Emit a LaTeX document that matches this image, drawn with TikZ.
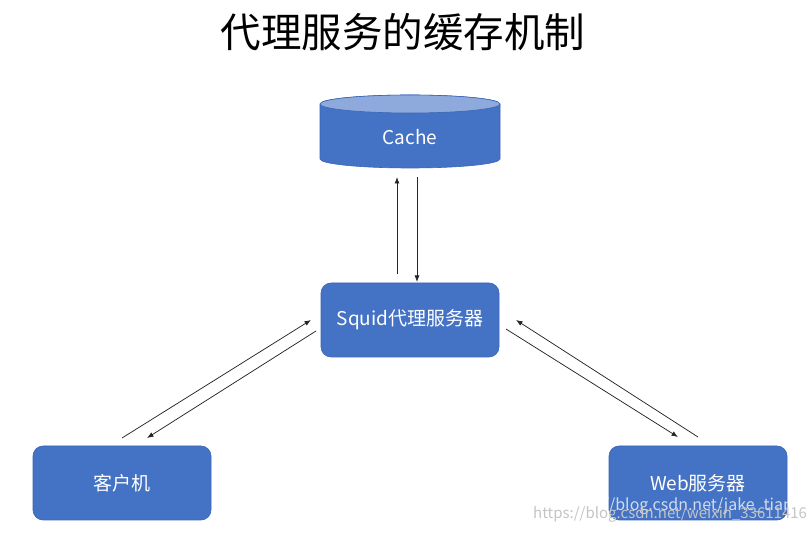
\documentclass[tikz,border=0pt]{standalone}
\usepackage{fontspec}
\setmainfont{Noto Sans CJK SC}
\usetikzlibrary{arrows.meta}
\definecolor{boxblue}{HTML}{4472C4}
\definecolor{boxedge}{HTML}{3A66B5}
\definecolor{toplight}{HTML}{8EA9DB}
\definecolor{wmgray}{HTML}{C4C4C4}
\begin{document}
\begin{tikzpicture}[x=1pt,y=-1pt,
  bluebox/.style={draw=boxedge,line width=0.6pt,fill=boxblue,rounded corners=10pt,
    minimum width=178pt,minimum height=74pt,text=white,font=\fontsize{19}{22}\selectfont,inner sep=0pt},
  flow/.style={-{Latex[length=6.5pt,width=5pt]},line width=0.75pt,draw=black!85},
  wmark/.style={inner sep=0pt}
]
\useasboundingbox (0,0) rectangle (812,534);
% title
\node[font=\fontsize{40.5}{46}\selectfont] (title) at (403,32) {代理服务的缓存机制};
% cache cylinder
\path[fill=boxblue,draw=boxedge,line width=0.6pt]
  (320,104) -- (320,159) arc[start angle=180,end angle=360,x radius=90pt,y radius=9pt]
  -- (500,104) arc[start angle=0,end angle=180,x radius=90pt,y radius=9pt] -- cycle;
\path[fill=toplight,draw=boxedge,line width=0.6pt] (410,104) ellipse[x radius=90pt,y radius=9pt];
\node[text=white,font=\fontsize{19}{22}\selectfont,inner sep=0pt] (cache) at (410,137) {Cache};
% boxes
\node[bluebox] (squid) at (410,320) {Squid代理服务器};
\node[bluebox] (client) at (122,483) {客户机};
\node[bluebox] (web) at (698,483) {Web服务器};
% arrow end points
\coordinate (c1s) at (397,274); \coordinate (c1e) at (397,177);
\coordinate (c2s) at (417,177); \coordinate (c2e) at (417,282);
\coordinate (l1s) at (122,438); \coordinate (l1e) at (311,320);
\coordinate (l2s) at (316,331); \coordinate (l2e) at (147,438);
\coordinate (r1s) at (698,437); \coordinate (r1e) at (516,320);
\coordinate (r2s) at (506,329); \coordinate (r2e) at (678,437);
\draw[flow] (c1s) -- (c1e);
\draw[flow] (c2s) -- (c2e);
\draw[flow] (l1s) -- (l1e);
\draw[flow] (l2s) -- (l2e);
\draw[flow] (r1s) -- (r1e);
\draw[flow] (r2s) -- (r2e);
% watermark
\node[wmark,font=\fontsize{16}{18}\selectfont,text=white,opacity=0.75,anchor=east] (wm2) at (793,506) {https://blog.csdn.net/jake\_tian};
\node[wmark,font=\fontsize{15}{17}\selectfont,text=wmgray,anchor=west] (wm1) at (533,514) {https://blog.csdn.net/weixin\_33611416};
\end{tikzpicture}
\end{document}
